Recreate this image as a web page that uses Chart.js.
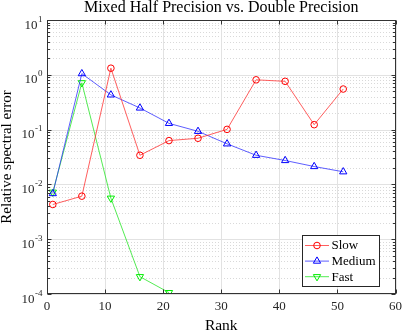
<!DOCTYPE html>
<html><head><meta charset="utf-8">
<script src="https://cdn.jsdelivr.net/npm/chart.js@4"></script>
<style>html,body{margin:0;padding:0;background:#fff}canvas{display:block}</style>
</head><body>
<canvas id="c" width="407" height="332"></canvas>
<script>
const ranks = [1, 6, 11, 16, 21, 26, 31, 36, 41, 46, 51];
const slow = [0.0043, 0.0061, 1.32, 0.034, 0.063, 0.0695, 0.101, 0.81, 0.76, 0.123, 0.55];
const medium = [0.0068, 1.05, 0.43, 0.248, 0.13, 0.093, 0.055, 0.034, 0.0273, 0.0212, 0.017];
const fastRanks = [1, 6, 11, 16, 21];
const fast = [0.0072, 0.715, 0.0056, 0.000207, 0.000106];
const xTicks = [0, 10, 20, 30, 40, 50, 60];
const yExponents = [-4, -3, -2, -1, 0, 1];
const titleText = 'Mixed Half Precision vs. Double Precision';
const xLabel = 'Rank';
const yLabel = 'Relative spectral error';
const seriesNames = ['Slow', 'Medium', 'Fast'];

const SERIF = '"Liberation Serif", "Times New Roman", serif';
const AX = '#333333';

function drawMarker(ctx, style, x, y, r, rot, color) {
  ctx.save();
  ctx.strokeStyle = color; ctx.lineWidth = 1;
  ctx.beginPath();
  if (style === 'circle') {
    ctx.arc(x, y, r, 0, Math.PI * 2);
  } else {
    const s = rot ? -1 : 1;
    ctx.moveTo(x, y - s * r);
    ctx.lineTo(x + r * 0.866, y + s * r * 0.5);
    ctx.lineTo(x - r * 0.866, y + s * r * 0.5);
    ctx.closePath();
  }
  ctx.stroke();
  ctx.restore();
}

const matlabAxes = {
  id: 'matlabAxes',
  beforeDatasetsDraw(chart) {
    const ctx = chart.ctx, a = chart.chartArea, xs = chart.scales.x, ys = chart.scales.y;
    ctx.save();
    ctx.lineWidth = 1;
    ctx.strokeStyle = '#d9d9d9';
    ctx.setLineDash([1, 2]);
    for (const e of yExponents) {
      if (e >= 1) continue;
      for (let m = 2; m <= 9; m++) {
        const py = Math.round(ys.getPixelForValue(m * Math.pow(10, e))) + 0.5;
        ctx.beginPath(); ctx.moveTo(a.left, py); ctx.lineTo(a.right, py); ctx.stroke();
      }
    }
    ctx.setLineDash([]);
    ctx.strokeStyle = '#e2e2e2';
    for (const e of yExponents) {
      const py = Math.round(ys.getPixelForValue(Math.pow(10, e))) + 0.5;
      ctx.beginPath(); ctx.moveTo(a.left, py); ctx.lineTo(a.right, py); ctx.stroke();
    }
    for (const t of xTicks) {
      const px = Math.round(xs.getPixelForValue(t)) + 0.5;
      ctx.beginPath(); ctx.moveTo(px, a.top); ctx.lineTo(px, a.bottom); ctx.stroke();
    }
    ctx.restore();
  },
  afterDatasetsDraw(chart) {
    const ctx = chart.ctx, a = chart.chartArea, xs = chart.scales.x, ys = chart.scales.y;
    ctx.save();
    ctx.lineWidth = 1;
    ctx.strokeStyle = AX;
    const L = Math.round(a.left) + 0.5, R = Math.round(a.right) - 0.5;
    const T = Math.round(a.top) + 0.5, B = Math.round(a.bottom) - 0.5;
    ctx.strokeRect(L, T, R - L, B - T);
    for (const t of xTicks) {
      const px = Math.round(xs.getPixelForValue(t)) + 0.5;
      ctx.beginPath(); ctx.moveTo(px, B); ctx.lineTo(px, B - 4); ctx.stroke();
      ctx.beginPath(); ctx.moveTo(px, T); ctx.lineTo(px, T + 4); ctx.stroke();
    }
    for (const e of yExponents) {
      const py = Math.round(ys.getPixelForValue(Math.pow(10, e))) + 0.5;
      ctx.beginPath(); ctx.moveTo(L, py); ctx.lineTo(L + 4, py); ctx.moveTo(R, py); ctx.lineTo(R - 4, py); ctx.stroke();
      if (e < 1) {
        for (let m = 2; m <= 9; m++) {
          const qy = Math.round(ys.getPixelForValue(m * Math.pow(10, e))) + 0.5;
          ctx.beginPath(); ctx.moveTo(L, qy); ctx.lineTo(L + 2.5, qy); ctx.moveTo(R, qy); ctx.lineTo(R - 2.5, qy); ctx.stroke();
        }
      }
    }
    ctx.fillStyle = '#262626';
    ctx.textBaseline = 'alphabetic';
    ctx.textAlign = 'left';
    for (const e of yExponents) {
      const py = ys.getPixelForValue(Math.pow(10, e));
      const base = '10', ex = String(e);
      ctx.font = '13px ' + SERIF;
      const wb = ctx.measureText(base).width;
      ctx.font = '9px ' + SERIF;
      const we = ctx.measureText(ex).width;
      const x0 = 42 - wb - we;
      ctx.font = '13px ' + SERIF;
      ctx.fillText(base, x0, py + 8.5);
      ctx.font = '9px ' + SERIF;
      ctx.fillText(ex, x0 + wb + 0.5, py + 1.5);
    }
    ctx.font = '16px ' + SERIF;
    ctx.textAlign = 'center';
    ctx.textBaseline = 'middle';
    ctx.fillStyle = '#000';
    ctx.fillText(titleText, (a.left + a.right) / 2, 8);
    const lx = 302.5, ly = 235.5, lw = 77, lh = 51;
    ctx.fillStyle = '#fff';
    ctx.fillRect(lx, ly, lw, lh);
    ctx.strokeStyle = '#262626';
    ctx.strokeRect(lx, ly, lw, lh);
    chart.data.datasets.forEach((ds, i) => {
      const y = 245.5 + i * 15.6;
      ctx.strokeStyle = ds.borderColor; ctx.lineWidth = 1;
      ctx.beginPath(); ctx.moveTo(305, y); ctx.lineTo(329, y); ctx.stroke();
      drawMarker(ctx, ds.pointStyle, 317, y, ds.pointRadius, ds.pointRotation, ds.pointBorderColor);
      ctx.fillStyle = '#000';
      ctx.font = '13px ' + SERIF;
      ctx.textAlign = 'left';
      ctx.textBaseline = 'middle';
      ctx.fillText(ds.label, 331.5, y + 0.5);
    });
    ctx.restore();
  }
};

const mk = (xsArr, ys) => xsArr.map((x, i) => ({ x: x, y: ys[i] }));

new Chart(document.getElementById('c'), {
  type: 'line',
  data: {
    datasets: [
      { label: seriesNames[0], data: mk(ranks, slow), borderColor: 'rgba(255,40,40,0.75)', pointBorderColor: '#ff0000',
        pointBackgroundColor: 'rgba(0,0,0,0)', pointStyle: 'circle', pointRadius: 3.3, pointRotation: 0, borderWidth: 1, pointBorderWidth: 1, fill: false, tension: 0 },
      { label: seriesNames[1], data: mk(ranks, medium), borderColor: 'rgba(40,40,255,0.75)', pointBorderColor: '#0000ff',
        pointBackgroundColor: 'rgba(0,0,0,0)', pointStyle: 'triangle', pointRadius: 4.2, pointRotation: 0, borderWidth: 1, pointBorderWidth: 1, fill: false, tension: 0 },
      { label: seriesNames[2], data: mk(fastRanks, fast), borderColor: 'rgba(40,230,40,0.8)', pointBorderColor: '#00ee00',
        pointBackgroundColor: 'rgba(0,0,0,0)', pointStyle: 'triangle', pointRadius: 4.2, pointRotation: 180, borderWidth: 1, pointBorderWidth: 1, fill: false, tension: 0 }
    ]
  },
  options: {
    responsive: false,
    animation: false,
    layout: { padding: { top: 20, right: 8, left: 0, bottom: 0 } },
    plugins: { legend: { display: false }, title: { display: false }, tooltip: { enabled: false } },
    scales: {
      x: {
        type: 'linear', min: 0, max: 60,
        afterBuildTicks: (s) => { s.ticks = xTicks.map(v => ({ value: v })); },
        afterFit: (s) => { s.height = 38; },
        grid: { display: false, drawTicks: false },
        border: { display: false },
        ticks: { color: '#262626', font: { family: SERIF, size: 13 }, padding: 5, maxRotation: 0 },
        title: { display: true, text: xLabel, color: '#000', font: { family: SERIF, size: 15.5, lineHeight: 0.75 }, padding: 0 }
      },
      y: {
        type: 'logarithmic', min: 1e-4, max: 10,
        afterFit: (s) => { s.width = 47; },
        grid: { display: false },
        border: { display: false },
        ticks: { display: false },
        title: { display: true, text: yLabel, color: '#000', font: { family: SERIF, size: 15, lineHeight: 1 }, padding: 0 }
      }
    }
  },
  plugins: [matlabAxes]
});
</script>
</body></html>
